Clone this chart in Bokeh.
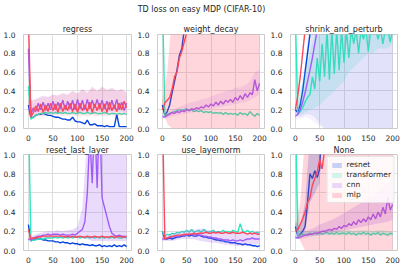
from bokeh.plotting import figure
from bokeh.layouts import row, column
from bokeh.models import Title, Legend, LegendItem, FixedTicker, PrintfTickFormatter, Range1d, Div
from bokeh.embed import file_html
from bokeh.resources import INLINE

SUPTITLE = "TD loss on easy MDP (CIFAR-10)"
PANELS = ["regress", "weight_decay", "shrink_and_perturb", "reset_last_layer", "use_layernorm", "None"]
MODELS = ["resnet", "transformer", "cnn", "mlp"]
X_TICKS = [0, 50, 100, 150, 200]
Y_TICKS = [0.0, 0.2, 0.4, 0.6, 0.8, 1.0]
X = list(range(0, 201, 5))     # steps of the mean curves
XB = list(range(0, 201, 10))   # steps of the shaded bands

# ---------------- regress ----------------
REGRESS_RESNET = [0.25, 0.11, 0.12, 0.14, 0.15, 0.15, 0.16, 0.15, 0.14, 0.14,
                  0.13, 0.12, 0.12, 0.11, 0.10, 0.10, 0.09, 0.09, 0.12, 0.08,
                  0.07, 0.07, 0.06, 0.05, 0.09, 0.04, 0.04, 0.05, 0.03, 0.03,
                  0.03, 0.02, 0.03, 0.02, 0.02, 0.02, 0.15, 0.02, 0.02, 0.02,
                  0.02]
REGRESS_TRANSFORMER = [0.45, 0.10, 0.12, 0.14, 0.15, 0.16, 0.16, 0.17, 0.16, 0.17,
                       0.16, 0.17, 0.16, 0.17, 0.16, 0.17, 0.16, 0.16, 0.17, 0.16,
                       0.16, 0.17, 0.16, 0.16, 0.17, 0.16, 0.16, 0.17, 0.16, 0.16,
                       0.16, 0.17, 0.16, 0.15, 0.16, 0.16, 0.15, 0.16, 0.15, 0.16,
                       0.15]
REGRESS_CNN = [0.85, 0.15, 0.22, 0.18, 0.27, 0.20, 0.28, 0.19, 0.27, 0.20,
               0.29, 0.20, 0.28, 0.21, 0.30, 0.20, 0.29, 0.21, 0.30, 0.20,
               0.31, 0.21, 0.30, 0.20, 0.31, 0.21, 0.30, 0.22, 0.31, 0.21,
               0.30, 0.21, 0.29, 0.20, 0.30, 0.21, 0.31, 0.20, 0.28, 0.19,
               0.27]
REGRESS_MLP = [1.20, 0.12, 0.17, 0.24, 0.18, 0.26, 0.17, 0.25, 0.18, 0.27,
               0.19, 0.26, 0.17, 0.27, 0.18, 0.25, 0.19, 0.27, 0.18, 0.26,
               0.17, 0.27, 0.19, 0.25, 0.18, 0.28, 0.17, 0.26, 0.19, 0.27,
               0.18, 0.26, 0.17, 0.28, 0.19, 0.25, 0.18, 0.27, 0.20, 0.29,
               0.22]
REGRESS_CNN_LO = [0.15, 0.15, 0.16, 0.17, 0.17, 0.17, 0.18, 0.17, 0.18, 0.17,
                  0.18, 0.17, 0.18, 0.17, 0.18, 0.17, 0.18, 0.17, 0.18, 0.17, 0.17]
REGRESS_CNN_HI = [0.30, 0.30, 0.33, 0.35, 0.34, 0.36, 0.35, 0.37, 0.36, 0.40,
                  0.37, 0.42, 0.38, 0.44, 0.40, 0.45, 0.41, 0.43, 0.40, 0.42, 0.38]
REGRESS_MLP_LO = [0.15, 0.12, 0.13, 0.13, 0.14, 0.14, 0.14, 0.13, 0.14, 0.14,
                  0.13, 0.14, 0.13, 0.14, 0.13, 0.14, 0.13, 0.14, 0.13, 0.14, 0.14]
REGRESS_MLP_HI = [0.30, 0.30, 0.32, 0.34, 0.33, 0.36, 0.35, 0.38, 0.36, 0.40,
                  0.37, 0.42, 0.38, 0.45, 0.40, 0.44, 0.41, 0.43, 0.40, 0.42, 0.38]

# ---------------- weight_decay ----------------
WD_RESNET = [0.25, 0.14, 0.18, 0.25, 0.38, 0.50, 0.62, 0.78, 0.85, 1.05, 1.30]
WD_TRANSFORMER = [1.50, 0.13, 0.15, 0.16, 0.17, 0.18, 0.19, 0.20, 0.19, 0.20,
                  0.21, 0.19, 0.20, 0.18, 0.19, 0.18, 0.19, 0.17, 0.18, 0.17,
                  0.18, 0.16, 0.17, 0.16, 0.17, 0.15, 0.17, 0.15, 0.16, 0.15,
                  0.16, 0.14, 0.17, 0.15, 0.16, 0.14, 0.18, 0.15, 0.13, 0.16,
                  0.14]
WD_CNN = [0.13, 0.12, 0.14, 0.15, 0.17, 0.16, 0.18, 0.17, 0.19, 0.18,
          0.20, 0.19, 0.21, 0.20, 0.22, 0.21, 0.23, 0.22, 0.25, 0.23,
          0.26, 0.24, 0.28, 0.25, 0.29, 0.26, 0.30, 0.28, 0.31, 0.28,
          0.33, 0.30, 0.35, 0.31, 0.37, 0.33, 0.38, 0.36, 0.52, 0.40,
          0.48]
WD_MLP = [0.20, 0.27, 0.30, 0.33, 0.42, 0.55, 0.60, 0.75, 0.82, 0.92, 1.02, 1.30]
WD_CNN_LO = [0.10, 0.11, 0.13, 0.14, 0.15, 0.16, 0.17, 0.18, 0.19, 0.20,
             0.21, 0.22, 0.23, 0.24, 0.25, 0.26, 0.27, 0.28, 0.30, 0.33, 0.36]
WD_CNN_HI = [0.16, 0.18, 0.20, 0.22, 0.24, 0.26, 0.28, 0.29, 0.31, 0.32,
             0.34, 0.36, 0.38, 0.40, 0.41, 0.43, 0.44, 0.46, 0.50, 0.60, 0.62]
WD_MLP_LO = [0.20, 0.05, 0.00, 0.00, 0.00, 0.00, 0.00, 0.00, 0.00, 0.00,
             0.00, 0.00, 0.00, 0.00, 0.00, 0.00, 0.00, 0.00, 0.00, 0.00, 0.00]
WD_MLP_HI = [0.30, 0.60, 1.20, 1.50, 1.60, 1.70, 1.80, 1.90, 2.00, 2.00,
             2.10, 2.10, 2.20, 2.20, 2.30, 2.30, 2.40, 2.40, 2.50, 2.50, 2.60]

# ---------------- shrink_and_perturb ----------------
SP_RESNET = [0.20, 0.17, 0.25, 0.40, 0.60, 0.80, 1.00, 1.40]
SP_TRANSFORMER = [1.20, 0.15, 0.18, 0.22, 0.28, 0.33, 0.36, 0.55, 0.42, 0.75,
                  0.50, 0.90, 0.55, 1.05, 0.52, 1.05, 0.58, 1.05, 0.62, 1.05,
                  0.70, 1.05, 0.75, 1.05, 0.90, 1.05, 0.80, 1.05, 0.95, 1.05,
                  0.82, 1.05, 1.05, 1.05, 0.95, 1.05, 0.90, 1.05, 1.05, 0.92,
                  1.05]
SP_CNN = [0.13, 0.15, 0.20, 0.28, 0.38, 0.50, 0.62, 0.75, 0.90, 1.05, 1.50]
SP_MLP = [0.20, 0.35, 0.55, 0.80, 1.05, 1.50]
SP_RESNET_LO = [0.15, 0.12, 0.15, 0.15, 0.12, 0.05, 0.00, 0.00, 0.00, 0.00,
                0.00, 0.00, 0.00, 0.00, 0.00, 0.00, 0.00, 0.00, 0.00, 0.00, 0.00]
SP_RESNET_HI = [0.25, 0.35, 0.70, 1.20, 1.50, 1.50, 1.50, 1.50, 1.50, 1.50,
                1.50, 1.50, 1.50, 1.50, 1.50, 1.50, 1.50, 1.50, 1.50, 1.50, 1.50]
SP_TRANSFORMER_LO = [0.20, 0.15, 0.17, 0.20, 0.22, 0.25, 0.30, 0.35, 0.40, 0.45,
                     0.50, 0.60, 0.65, 0.70, 0.75, 0.80, 0.80, 0.85, 0.85, 0.85, 0.90]
SP_TRANSFORMER_HI = [1.00, 0.40, 0.60, 0.80, 1.00, 1.10, 1.10, 1.10, 1.10, 1.10,
                     1.10, 1.10, 1.10, 1.10, 1.10, 1.10, 1.10, 1.10, 1.10, 1.10, 1.10]
SP_CNN_LO = [0.10, 0.10, 0.12, 0.10, 0.06, 0.02, 0.00, 0.00, 0.00, 0.00,
             0.00, 0.00, 0.00, 0.00, 0.00, 0.00, 0.00, 0.00, 0.00, 0.00, 0.00]
SP_CNN_HI = [0.18, 0.30, 0.50, 0.85, 1.20, 1.50, 1.50, 1.50, 1.50, 1.50,
             1.50, 1.50, 1.50, 1.50, 1.50, 1.50, 1.50, 1.50, 1.50, 1.50, 1.50]

# ---------------- reset_last_layer ----------------
RL_RESNET = [0.27, 0.10, 0.11, 0.12, 0.12, 0.12, 0.11, 0.11, 0.10, 0.10,
             0.10, 0.09, 0.09, 0.08, 0.09, 0.08, 0.08, 0.07, 0.08, 0.07,
             0.07, 0.06, 0.07, 0.06, 0.06, 0.05, 0.06, 0.05, 0.05, 0.06,
             0.04, 0.05, 0.04, 0.05, 0.04, 0.06, 0.04, 0.05, 0.04, 0.06,
             0.04]
RL_TRANSFORMER = [1.50, 0.10, 0.11, 0.11, 0.12, 0.12, 0.12, 0.13, 0.13, 0.13,
                  0.13, 0.14, 0.13, 0.14, 0.13, 0.14, 0.13, 0.14, 0.13, 0.14,
                  0.14, 0.13, 0.14, 0.13, 0.14, 0.13, 0.14, 0.13, 0.14, 0.13,
                  0.14, 0.13, 0.14, 0.13, 0.14, 0.13, 0.14, 0.13, 0.13, 0.14,
                  0.13]
RL_CNN = [0.12, 0.11, 0.13, 0.14, 0.15, 0.15, 0.16, 0.16, 0.17, 0.16,
          0.17, 0.17, 0.17, 0.16, 0.17, 0.16, 0.16, 0.16, 0.17, 0.16,
          0.18, 0.20, 0.22, 0.30, 0.60, 1.20, 0.70, 1.40, 0.65, 1.50,
          0.55, 0.45, 0.35, 0.25, 0.18, 0.16, 0.15, 0.16, 0.15, 0.15,
          0.14]
RL_MLP = [0.22, 0.12, 0.13, 0.13, 0.14, 0.14, 0.15, 0.15, 0.15, 0.15,
          0.15, 0.15, 0.15, 0.15, 0.15, 0.14, 0.15, 0.14, 0.15, 0.14,
          0.14, 0.15, 0.14, 0.14, 0.15, 0.14, 0.14, 0.15, 0.14, 0.14,
          0.15, 0.14, 0.14, 0.14, 0.15, 0.14, 0.14, 0.15, 0.14, 0.14,
          0.15]
RL_CNN_LO = [0.10, 0.11, 0.12, 0.13, 0.13, 0.13, 0.14, 0.13, 0.13, 0.13,
             0.13, 0.14, 0.12, 0.10, 0.10, 0.10, 0.10, 0.10, 0.10, 0.10, 0.10]
RL_CNN_HI = [0.14, 0.16, 0.18, 0.19, 0.20, 0.20, 0.21, 0.20, 0.21, 0.22,
             0.25, 0.45, 1.20, 1.50, 1.50, 1.50, 1.50, 1.50, 1.50, 1.50, 1.50]

# ---------------- use_layernorm ----------------
LN_RESNET = [0.20, 0.12, 0.12, 0.13, 0.12, 0.13, 0.14, 0.14, 0.15, 0.15,
             0.16, 0.15, 0.16, 0.15, 0.15, 0.16, 0.15, 0.14, 0.14, 0.13,
             0.13, 0.12, 0.11, 0.11, 0.10, 0.10, 0.09, 0.09, 0.08, 0.08,
             0.08, 0.07, 0.07, 0.06, 0.07, 0.06, 0.06, 0.05, 0.05, 0.04,
             0.05]
LN_TRANSFORMER = [0.20, 0.15, 0.17, 0.16, 0.18, 0.17, 0.19, 0.18, 0.20, 0.19,
                  0.21, 0.19, 0.22, 0.19, 0.20, 0.21, 0.19, 0.22, 0.20, 0.19,
                  0.20, 0.21, 0.19, 0.20, 0.19, 0.21, 0.19, 0.20, 0.19, 0.21,
                  0.20, 0.19, 0.28, 0.20, 0.19, 0.21, 0.19, 0.20, 0.18, 0.19,
                  0.18]
LN_CNN = [0.12, 0.12, 0.13, 0.14, 0.14, 0.15, 0.15, 0.15, 0.16, 0.16,
          0.16, 0.17, 0.17, 0.16, 0.17, 0.16, 0.16, 0.15, 0.15, 0.14,
          0.14, 0.13, 0.13, 0.12, 0.12, 0.11, 0.11, 0.11, 0.10, 0.11,
          0.10, 0.10, 0.11, 0.10, 0.11, 0.12, 0.12, 0.13, 0.12, 0.12,
          0.12]
LN_MLP = [1.50, 0.12, 0.13, 0.14, 0.15, 0.15, 0.16, 0.16, 0.16, 0.17,
          0.17, 0.17, 0.17, 0.18, 0.17, 0.18, 0.18, 0.18, 0.19, 0.18,
          0.18, 0.19, 0.18, 0.19, 0.18, 0.18, 0.19, 0.18, 0.18, 0.19,
          0.18, 0.18, 0.18, 0.19, 0.18, 0.17, 0.18, 0.17, 0.18, 0.17,
          0.17]
LN_CNN_LO = [0.10, 0.10, 0.10, 0.11, 0.12, 0.12, 0.12, 0.11, 0.10, 0.09,
             0.08, 0.08, 0.07, 0.06, 0.06, 0.05, 0.05, 0.05, 0.06, 0.06, 0.07]
LN_CNN_HI = [0.15, 0.16, 0.18, 0.19, 0.20, 0.21, 0.22, 0.22, 0.23, 0.22,
             0.21, 0.20, 0.20, 0.19, 0.19, 0.18, 0.18, 0.18, 0.19, 0.19, 0.20]

# ---------------- None ----------------
NO_RESNET = [0.25, 0.15, 0.17, 0.20, 0.25, 0.50, 0.80, 0.75, 0.83, 0.76, 0.85, 1.50]
NO_TRANSFORMER = [1.50, 0.14, 0.16, 0.17, 0.16, 0.17, 0.18, 0.17, 0.18, 0.17,
                  0.18, 0.17, 0.18, 0.19, 0.17, 0.18, 0.17, 0.19, 0.17, 0.18,
                  0.18, 0.17, 0.19, 0.17, 0.18, 0.16, 0.18, 0.17, 0.19, 0.17,
                  0.18, 0.16, 0.18, 0.17, 0.19, 0.16, 0.18, 0.17, 0.16, 0.18,
                  0.17]
NO_CNN = [0.14, 0.13, 0.14, 0.15, 0.16, 0.16, 0.17, 0.17, 0.18, 0.18,
          0.19, 0.20, 0.20, 0.21, 0.22, 0.21, 0.23, 0.22, 0.25, 0.23,
          0.26, 0.25, 0.28, 0.26, 0.30, 0.27, 0.32, 0.29, 0.33, 0.30,
          0.35, 0.32, 0.38, 0.33, 0.40, 0.35, 0.45, 0.38, 0.55, 0.42,
          0.48]
NO_MLP = [0.20, 0.22, 0.27, 0.33, 0.40, 0.50, 0.55, 0.68, 0.75, 0.82, 0.95, 0.85, 1.05, 1.50]
NO_RESNET_LO = [0.20, 0.15, 0.20, 0.50, 0.60, 0.70, 1.50]
NO_RESNET_HI = [0.30, 0.25, 0.50, 1.20, 1.50, 1.50, 1.60]
NO_TRANSFORMER_LO = [0.20, 0.14, 0.15, 0.15, 0.15, 0.16, 0.16, 0.16, 0.16, 0.16,
                     0.16, 0.16, 0.16, 0.16, 0.16, 0.16, 0.16, 0.16, 0.16, 0.16, 0.15]
NO_TRANSFORMER_HI = [1.00, 0.19, 0.20, 0.20, 0.21, 0.20, 0.21, 0.21, 0.20, 0.21,
                     0.21, 0.21, 0.20, 0.21, 0.21, 0.21, 0.20, 0.21, 0.21, 0.20, 0.20]
NO_CNN_LO = [0.12, 0.12, 0.13, 0.14, 0.15, 0.16, 0.17, 0.18, 0.19, 0.20,
             0.21, 0.22, 0.23, 0.24, 0.25, 0.26, 0.27, 0.28, 0.29, 0.30, 0.32]
NO_CNN_HI = [0.16, 0.17, 0.20, 0.22, 0.24, 0.27, 0.29, 0.31, 0.33, 0.36,
             0.39, 0.42, 0.45, 0.48, 0.51, 0.55, 0.58, 0.62, 0.66, 0.70, 0.75]
NO_MLP_LO = [0.20, 0.10, 0.00, 0.00, 0.00, 0.00, 0.00, 0.00, 0.00, 0.00,
             0.00, 0.00, 0.00, 0.00, 0.00, 0.00, 0.00, 0.00, 0.00, 0.00, 0.00]
NO_MLP_HI = [0.25, 0.50, 1.20, 1.50, 1.60, 1.70, 1.80, 1.90, 2.00, 2.00,
             2.10, 2.10, 2.20, 2.20, 2.30, 2.30, 2.40, 2.40, 2.50, 2.50, 2.60]

MEANS = {
    "regress": [REGRESS_RESNET, REGRESS_TRANSFORMER, REGRESS_CNN, REGRESS_MLP],
    "weight_decay": [WD_RESNET, WD_TRANSFORMER, WD_CNN, WD_MLP],
    "shrink_and_perturb": [SP_RESNET, SP_TRANSFORMER, SP_CNN, SP_MLP],
    "reset_last_layer": [RL_RESNET, RL_TRANSFORMER, RL_CNN, RL_MLP],
    "use_layernorm": [LN_RESNET, LN_TRANSFORMER, LN_CNN, LN_MLP],
    "None": [NO_RESNET, NO_TRANSFORMER, NO_CNN, NO_MLP],
}
BANDS = {
    ("regress", "cnn"): (REGRESS_CNN_LO, REGRESS_CNN_HI),
    ("regress", "mlp"): (REGRESS_MLP_LO, REGRESS_MLP_HI),
    ("weight_decay", "cnn"): (WD_CNN_LO, WD_CNN_HI),
    ("weight_decay", "mlp"): (WD_MLP_LO, WD_MLP_HI),
    ("shrink_and_perturb", "resnet"): (SP_RESNET_LO, SP_RESNET_HI),
    ("shrink_and_perturb", "transformer"): (SP_TRANSFORMER_LO, SP_TRANSFORMER_HI),
    ("shrink_and_perturb", "cnn"): (SP_CNN_LO, SP_CNN_HI),
    ("reset_last_layer", "cnn"): (RL_CNN_LO, RL_CNN_HI),
    ("use_layernorm", "cnn"): (LN_CNN_LO, LN_CNN_HI),
    ("None", "resnet"): (NO_RESNET_LO, NO_RESNET_HI),
    ("None", "transformer"): (NO_TRANSFORMER_LO, NO_TRANSFORMER_HI),
    ("None", "cnn"): (NO_CNN_LO, NO_CNN_HI),
    ("None", "mlp"): (NO_MLP_LO, NO_MLP_HI),
}

# style
COLORS = {"resnet": "#0343df", "transformer": "#2ee8bb", "cnn": "#a05cf8", "mlp": "#fd4659"}
BAND_ALPHA = 0.22
BAND_ALPHA_SPECIAL = {("regress", "cnn"): 0.14, ("regress", "mlp"): 0.14,
                      ("weight_decay", "cnn"): 0.14,
                      ("shrink_and_perturb", "resnet"): 0.09,
                      ("shrink_and_perturb", "cnn"): 0.08,
                      ("shrink_and_perturb", "transformer"): 0.16}
TXT = "#262626"
FONT = "DejaVu Sans"


def make_panel(panel, width, height, bl, br, bt, bb, title_standoff, legend=False):
    p = figure(width=width, height=height, x_range=Range1d(-10, 210), y_range=Range1d(0, 1),
               output_backend="svg", toolbar_location=None, title=None,
               min_border_left=bl, min_border_right=br, min_border_top=bt, min_border_bottom=bb,
               background_fill_color="white", border_fill_color="white")
    p.add_layout(Title(text=panel, align="center", text_font=FONT, text_font_size="8px",
                       text_font_style="normal", text_color=TXT, standoff=title_standoff), "above")
    p.outline_line_color = "#cccccc"
    p.outline_line_width = 1
    for ax in (p.xaxis[0], p.yaxis[0]):
        ax.major_tick_line_color = None
        ax.minor_tick_line_color = None
        ax.axis_line_color = None
        ax.major_label_text_font = FONT
        ax.major_label_text_font_size = "7.5px"
        ax.major_label_text_color = TXT
    p.xaxis.ticker = FixedTicker(ticks=X_TICKS)
    p.yaxis.ticker = FixedTicker(ticks=Y_TICKS)
    p.yaxis.formatter = PrintfTickFormatter(format="%.1f")
    p.xaxis.major_label_standoff = 0
    p.yaxis.major_label_standoff = 2
    p.xgrid.ticker = FixedTicker(ticks=X_TICKS)
    p.ygrid.ticker = FixedTicker(ticks=Y_TICKS)
    for g in (p.xgrid[0], p.ygrid[0]):
        g.grid_line_color = "#dedede"
        g.grid_line_width = 1

    band_r = {}
    for m, ys in zip(MODELS, MEANS[panel]):
        c = COLORS[m]
        if (panel, m) in BANDS:
            lo, hi = BANDS[(panel, m)]
            a = BAND_ALPHA_SPECIAL.get((panel, m), BAND_ALPHA)
            band_r[m] = p.varea(x=XB[:len(lo)], y1=lo, y2=hi, fill_color=c, fill_alpha=a)
        p.line(x=X[:len(ys)], y=ys, line_color=c, line_width=1.4)

    if legend:
        items = [LegendItem(label=m, renderers=[band_r[m]]) for m in MODELS]
        lg = Legend(items=items, location="top_right", label_text_font=FONT,
                    label_text_font_size="7.5px", label_text_color=TXT,
                    glyph_width=12, glyph_height=6, label_height=6, label_standoff=4,
                    spacing=1, padding=3, margin=2, border_line_color="#cccccc",
                    border_line_width=1, background_fill_alpha=0.85)
        p.add_layout(lg)
    return p


# column geometry: (width, border_left, border_right)
COLS = [(134, 20, 3), (133, 19, 3), (136, 19, 6)]
# row geometry: (height, border_top, border_bottom, title standoff)
ROW1 = (127, 18, 9, 2)
ROW2 = (122, 10, 12, 0)

figs = []
for i, panel in enumerate(PANELS):
    r, c = divmod(i, 3)
    w, bl, br = COLS[c]
    h, bt, bb, ts = ROW1 if r == 0 else ROW2
    figs.append(make_panel(panel, w, h, bl, br, bt, bb, ts, legend=(panel == "None")))

title_div = Div(text=SUPTITLE, width=403, height=16, margin=(0, 0, 0, 0),
                styles={"font-family": FONT, "font-size": "8px", "color": TXT,
                        "text-align": "center", "line-height": "20px", "width": "403px"})

layout = column(title_div, row(*figs[:3], spacing=0), row(*figs[3:], spacing=0), spacing=0)
open("out.html", "w").write(file_html(layout, INLINE))
